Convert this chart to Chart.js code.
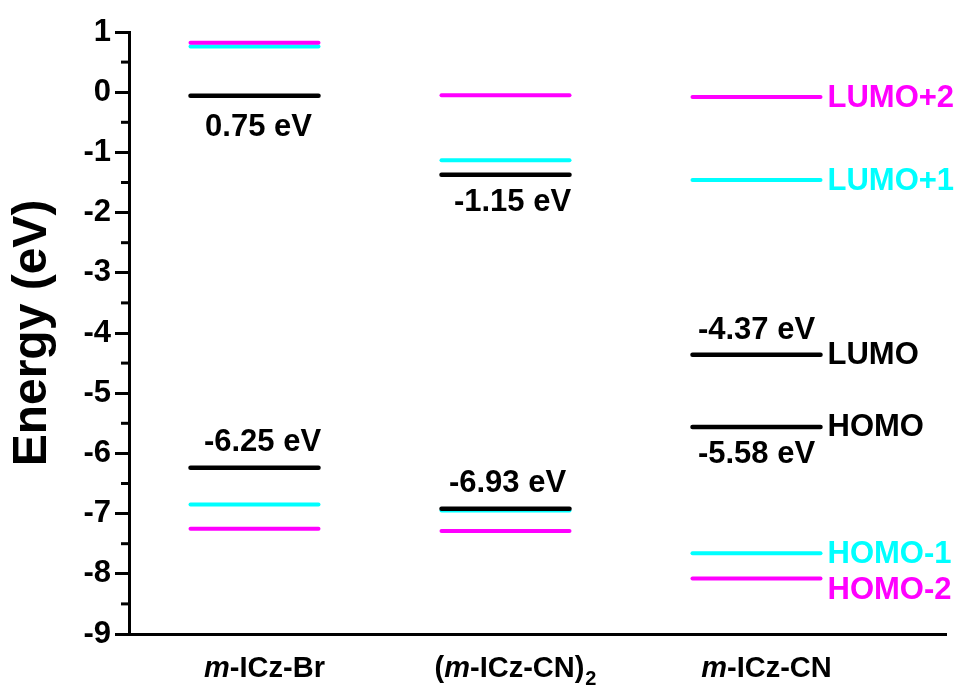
<!DOCTYPE html>
<html>
<head>
<meta charset="utf-8">
<script src="https://cdn.jsdelivr.net/npm/chart.js@4.4.1/dist/chart.umd.min.js"></script>
<style>
  html, body { margin: 0; padding: 0; background: #fff; }
  #wrap { width: 962px; height: 689px; }
</style>
</head>
<body>
<div id="wrap"><canvas id="levels"></canvas></div>
<script>
// compounds along the x axis
var compounds = ["m-ICz-Br", "(m-ICz-CN)2", "m-ICz-CN"];
var compoundX = [1, 2, 3];

// orbital energies (eV)
var lumo2 = [0.82, -0.05, -0.08];
var lumo1 = [0.76, -1.13, -1.46];
var lumo  = [-0.06, -1.37, -4.36];
var homo  = [-6.24, -6.92, -5.56];
var homo1 = [-6.85, -6.95, -7.66];
var homo2 = [-7.25, -7.29, -8.08];

// printed gap values
var lumoText = ["0.75 eV", "-1.15 eV", "-4.37 eV"];
var homoText = ["-6.25 eV", "-6.93 eV", "-5.58 eV"];

var yTicks = [1, 0, -1, -2, -3, -4, -5, -6, -7, -8, -9];

var MAGENTA = "#ff00ff", CYAN = "#00ffff", BLACK = "#000000";
var FONT = "'Liberation Sans', Arial, sans-serif";

var orbitals = [
  { name: "LUMO",   values: lumo,  color: BLACK,   width: 4.5 },
  { name: "HOMO",   values: homo,  color: BLACK,   width: 4.5 },
  { name: "LUMO+2", values: lumo2, color: MAGENTA, width: 4 },
  { name: "LUMO+1", values: lumo1, color: CYAN,    width: 4 },
  { name: "HOMO-1", values: homo1, color: CYAN,    width: 4 },
  { name: "HOMO-2", values: homo2, color: MAGENTA, width: 4 }
];

var halfWidth = 0.255;
var datasets = [];
orbitals.forEach(function(orb) {
  orb.values.forEach(function(v, i) {
    datasets.push({
      label: orb.name,
      data: [{ x: compoundX[i] - halfWidth, y: v }, { x: compoundX[i] + halfWidth, y: v }],
      borderColor: orb.color,
      borderWidth: orb.width,
      borderCapStyle: "round",
      pointRadius: 0,
      fill: false
    });
  });
});

function drawName(ctx, name, cx, y) {
  var i = name.indexOf("m");
  var pre = name.slice(0, i), rest = name.slice(i + 1), sub = "";
  var mm = rest.match(/\)(\d)$/);
  if (mm) { sub = mm[1]; rest = rest.slice(0, -1); }
  var normal = "bold 29px " + FONT, italic = "italic bold 29px " + FONT, small = "bold 20px " + FONT;
  ctx.font = normal; var w1 = ctx.measureText(pre).width, w3 = ctx.measureText(rest).width;
  ctx.font = italic; var w2 = ctx.measureText("m").width;
  ctx.font = small; var w4 = sub ? ctx.measureText(sub).width + 1 : 0;
  var x = cx - (w1 + w2 + w3 + w4) / 2;
  ctx.textAlign = "left"; ctx.textBaseline = "alphabetic"; ctx.fillStyle = BLACK;
  ctx.font = normal; ctx.fillText(pre, x, y); x += w1;
  ctx.font = italic; ctx.fillText("m", x, y); x += w2;
  ctx.font = normal; ctx.fillText(rest, x, y); x += w3;
  if (sub) { ctx.font = small; ctx.fillText(sub, x + 1, y + 8); }
}

var annotations = {
  id: "annotations",
  afterDraw: function(chart) {
    var ctx = chart.ctx, xs = chart.scales.x, ys = chart.scales.y;
    ctx.save();

    // minor ticks on y axis
    ctx.strokeStyle = BLACK; ctx.lineWidth = 3;
    for (var k = 0; k < yTicks.length - 1; k++) {
      var py = ys.getPixelForValue(yTicks[k] - 0.5);
      ctx.beginPath(); ctx.moveTo(ys.right - 8, py); ctx.lineTo(ys.right, py); ctx.stroke();
    }

    ctx.fillStyle = BLACK;
    ctx.font = "bold 31px " + FONT;
    ctx.textBaseline = "alphabetic";
    // LUMO values
    ctx.textAlign = "center";
    ctx.fillText(lumoText[0], xs.getPixelForValue(compoundX[0]) + 4, ys.getPixelForValue(lumo[0]) + 40);
    ctx.fillText(lumoText[1], xs.getPixelForValue(compoundX[1]) + 7, ys.getPixelForValue(lumo[1]) + 36);
    ctx.fillText(lumoText[2], xs.getPixelForValue(compoundX[2]), ys.getPixelForValue(lumo[2]) - 16);
    // HOMO values
    ctx.fillText(homoText[0], xs.getPixelForValue(compoundX[0]) + 8, ys.getPixelForValue(homo[0]) - 17);
    ctx.fillText(homoText[1], xs.getPixelForValue(compoundX[1]) + 2, ys.getPixelForValue(homo[1]) - 17);
    ctx.fillText(homoText[2], xs.getPixelForValue(compoundX[2]), ys.getPixelForValue(homo[2]) + 36);

    // orbital names beside the last compound
    ctx.textAlign = "left"; ctx.textBaseline = "middle";
    var lx = xs.getPixelForValue(compoundX[2] + halfWidth) + 7;
    orbitals.forEach(function(orb) {
      var off = orb.name === "HOMO-2" ? 11 : 0;
      ctx.fillStyle = orb.color;
      ctx.fillText(orb.name, lx, ys.getPixelForValue(orb.values[2]) + off + 1);
    });

    // compound names
    compounds.forEach(function(c, i) {
      drawName(ctx, c, xs.getPixelForValue(compoundX[i]) + 10, 677);
    });
    ctx.restore();
  }
};

new Chart(document.getElementById("levels").getContext("2d"), {
  type: "line",
  data: { datasets: datasets },
  plugins: [annotations],
  options: {
    responsive: true,
    maintainAspectRatio: false,
    animation: false,
    layout: { padding: { top: 32, right: 16, left: 0, bottom: 0 } },
    plugins: { legend: { display: false }, tooltip: { enabled: false } },
    scales: {
      x: {
        type: "linear",
        min: 0.5,
        max: 3.755,
        afterFit: function(s) { s.height = 55; },
        ticks: { display: false },
        grid: { drawOnChartArea: false, drawTicks: false },
        border: { color: BLACK, width: 3 }
      },
      y: {
        min: -9,
        max: 1,
        afterFit: function(s) { s.width = 129; },
        ticks: { stepSize: 1, color: BLACK, padding: 4, font: { family: FONT, size: 31, weight: "bold" } },
        grid: { drawOnChartArea: false, tickLength: 14, tickWidth: 3, tickColor: BLACK },
        border: { color: BLACK, width: 3 },
        title: {
          display: true,
          text: "Energy (eV)",
          color: BLACK,
          padding: { top: 4, bottom: 0 },
          font: { family: FONT, size: 48, weight: "bold" }
        }
      }
    }
  }
});
</script>
</body>
</html>
